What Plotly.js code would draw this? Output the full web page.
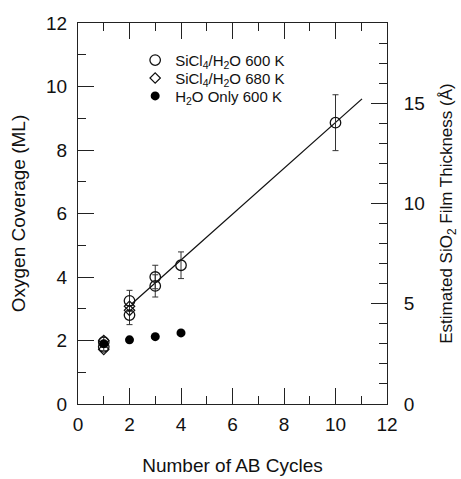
<!DOCTYPE html>
<html>
<head>
<meta charset="utf-8">
<script src="https://cdn.plot.ly/plotly-3.0.1.min.js"></script>
<style>html,body{margin:0;padding:0;background:#fff;}#chart{width:461px;height:479px;}</style>
</head>
<body>
<div id="chart"></div>
<script>
// SiCl4/H2O 600 K (open circles)
const cyc600 = [1, 1, 2, 2, 3, 3, 4, 10];
const cov600 = [1.95, 1.8, 3.25, 2.8, 4.0, 3.72, 4.37, 8.86];
const err600 = [0.15, 0.12, 0.33, 0.3, 0.37, 0.35, 0.42, 0.88];
// SiCl4/H2O 680 K (open diamonds)
const cyc680 = [1, 1, 2, 2];
const cov680 = [2.0, 1.72, 3.08, 2.95];
// H2O only 600 K (filled circles)
const cycH2O = [1, 2, 3, 4];
const covH2O = [1.9, 2.02, 2.12, 2.24];
// linear fit line
const fitX = [2.08, 11.03];
const fitY = [3.15, 9.61];
// right axis: estimated SiO2 thickness (Å) for 12 ML
const thickMax = 19.0;
const thickTicks = [0, 5, 10, 15];

const axisColor = '#222';
const font = {family: 'Liberation Sans, Arial, Helvetica, sans-serif', color: '#111'};
const legFont = Object.assign({}, font, {size: 15});
function leg(y) {
  return {x: 0.185, y: y, xanchor: 'left', yanchor: 'middle', bgcolor: 'rgba(0,0,0,0)',
          font: legFont, itemwidth: 30, borderwidth: 0};
}

const traces = [
  {x: fitX, y: fitY, mode: 'lines', line: {color: '#111', width: 1.3}, showlegend: false, hoverinfo: 'skip'},
  {x: cyc600, y: cov600, mode: 'markers', name: 'SiCl<sub>4</sub>/H<sub>2</sub>O 600 K', legend: 'legend',
   marker: {symbol: 'circle-open', size: 10.5, color: '#111', line: {width: 1.3, color: '#111'}},
   error_y: {type: 'data', array: err600, visible: true, color: '#333', thickness: 1, width: 3}},
  {x: cyc680, y: cov680, mode: 'markers', name: 'SiCl<sub>4</sub>/H<sub>2</sub>O 680 K', legend: 'legend2',
   marker: {symbol: 'diamond-open', size: 8, color: '#111', line: {width: 1.2, color: '#111'}}},
  {x: cycH2O, y: covH2O, mode: 'markers', name: 'H<sub>2</sub>O Only 600 K', legend: 'legend3',
   marker: {symbol: 'circle', size: 9, color: '#000'}},
  {x: [null], y: [null], yaxis: 'y2', mode: 'markers', showlegend: false, hoverinfo: 'skip'}
];

const layout = {
  width: 461, height: 479,
  margin: {l: 78, r: 74, t: 23, b: 75},
  paper_bgcolor: '#fff', plot_bgcolor: '#fff',
  font: Object.assign({size: 16}, font),
  showlegend: true,
  legend: leg(0.902),
  legend2: leg(0.855),
  legend3: leg(0.808),
  xaxis: {range: [0, 12], dtick: 2, tick0: 0, ticks: 'inside', ticklen: 16, tickwidth: 1, tickcolor: axisColor,
          showline: true, linecolor: axisColor, linewidth: 1, mirror: 'ticks', showgrid: false, zeroline: false,
          minor: {dtick: 1, ticks: 'inside', ticklen: 8, tickcolor: axisColor, showgrid: false},
          tickfont: Object.assign({}, font, {size: 19}), ticklabelstandoff: 3,
          title: {text: 'Number of AB Cycles', font: Object.assign({}, font, {size: 19}), standoff: 24}},
  yaxis: {range: [0, 12], dtick: 2, tick0: 0, ticks: 'inside', ticklen: 16, tickwidth: 1, tickcolor: axisColor,
          showline: true, linecolor: axisColor, linewidth: 1, mirror: false, showgrid: false, zeroline: false,
          minor: {dtick: 1, ticks: 'inside', ticklen: 8, tickcolor: axisColor, showgrid: false},
          tickfont: Object.assign({}, font, {size: 19}), ticklabelstandoff: 6,
          title: {text: 'Oxygen Coverage (ML)', font: Object.assign({}, font, {size: 19}), standoff: 15}},
  yaxis2: {overlaying: 'y', side: 'right', range: [0, thickMax], tickvals: thickTicks, ticks: 'inside', ticklen: 16,
           tickwidth: 1, tickcolor: axisColor, showline: true, linecolor: axisColor, linewidth: 1,
           showgrid: false, zeroline: false,
           minor: {dtick: 1, tick0: 0, ticks: 'inside', ticklen: 8, tickcolor: axisColor, showgrid: false},
           tickfont: Object.assign({}, font, {size: 19}), ticklabelstandoff: 12,
           title: {text: 'Estimated SiO<sub>2</sub> Film Thickness (Å)', font: Object.assign({}, font, {size: 17}), standoff: 16}}
};

Plotly.newPlot('chart', traces, layout, {staticPlot: true, displayModeBar: false});
</script>
</body>
</html>
